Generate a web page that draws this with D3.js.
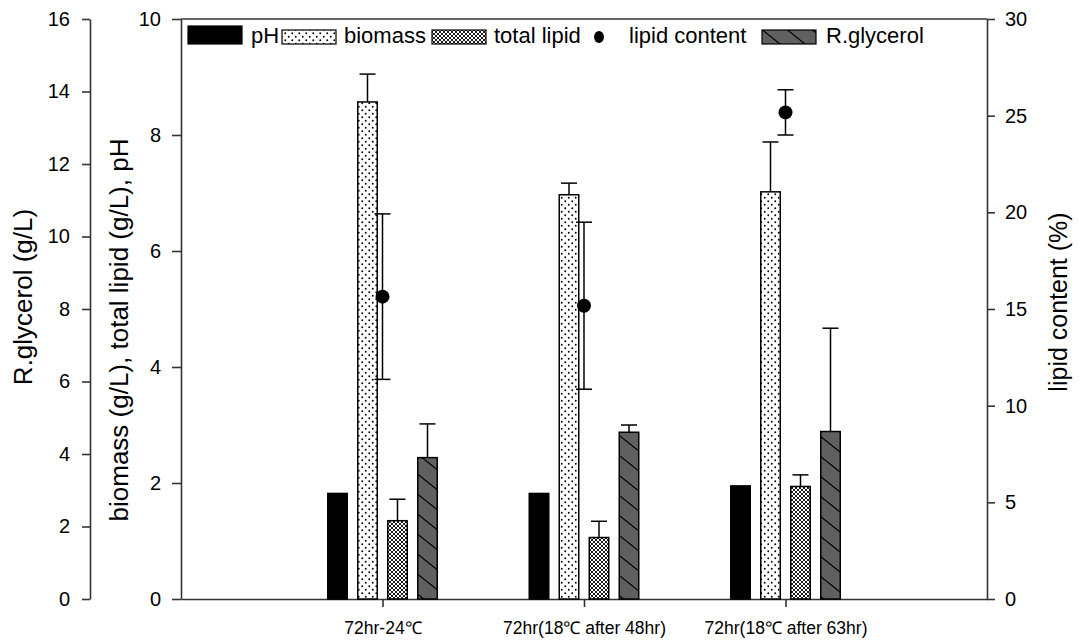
<!DOCTYPE html>
<html>
<head>
<meta charset="utf-8">
<script src="https://cdn.jsdelivr.net/npm/d3@7"></script>
<style>
  body { margin: 0; background: #fff; }
  svg text { font-family: Arial, "Liberation Sans", sans-serif; fill: #000; }
</style>
</head>
<body>
<svg id="chart" width="1085" height="641"></svg>
<script>
// ####################################################################################
// Data
var categories = ["72hr-24\u2103", "72hr(18\u2103 after 48hr)", "72hr(18\u2103 after 63hr)"];
var catPos = [1, 2, 3];

var pH = [1.82, 1.82, 1.95];
var biomass = [8.57, 6.97, 7.02];
var biomassErr = [0.48, 0.20, 0.86];
var totalLipid = [1.35, 1.06, 1.94];
var totalLipidErr = [0.37, 0.28, 0.20];
var lipidContent = [15.64, 15.17, 25.17];
var lipidContentErr = [4.28, 4.32, 1.17];
var rGlycerol = [3.90, 4.60, 4.62];
var rGlycerolErr = [0.93, 0.20, 2.85];

var barSeries = ["pH", "biomass", "total lipid", "R.glycerol"];
var glyTicks = [0, 2, 4, 6, 8, 10, 12, 14, 16];
var mainTicks = [0, 2, 4, 6, 8, 10];
var rightTicks = [0, 5, 10, 15, 20, 25, 30];

// ####################################################################################
// Layout
var chartDim = {left: 181, right: 987, top: 19, bottom: 599, outerAxis: 90};
var axisColor = "#333";
var fontFam = 'Arial, "Liberation Sans", sans-serif';

var svg = d3.select("#chart");

// patterns
var defs = svg.append("defs");

var pDots = defs.append("pattern").attr("id", "pat_biomass")
  .attr("patternUnits", "userSpaceOnUse").attr("width", 7).attr("height", 7);
pDots.append("rect").attr("width", 7).attr("height", 7).attr("fill", "#fff");
pDots.append("circle").attr("cx", 1.75).attr("cy", 1.75).attr("r", 0.95).attr("fill", "#000");
pDots.append("circle").attr("cx", 5.25).attr("cy", 5.25).attr("r", 0.95).attr("fill", "#000");

var pCross = defs.append("pattern").attr("id", "pat_lipid")
  .attr("patternUnits", "userSpaceOnUse").attr("width", 4).attr("height", 4);
pCross.append("rect").attr("width", 4).attr("height", 4).attr("fill", "#fff");
pCross.append("path").attr("d", "M0,0L4,4M4,0L0,4").attr("stroke", "#000").attr("stroke-width", 0.9);

var pHatch = defs.append("pattern").attr("id", "pat_gly")
  .attr("patternUnits", "userSpaceOnUse").attr("width", 25).attr("height", 20);
pHatch.append("rect").attr("width", 25).attr("height", 20).attr("fill", "#606060");
pHatch.append("path").attr("d", "M0,0L25,20M-5,16L5,24M20,-4L30,4").attr("stroke", "#000").attr("stroke-width", 1.2);

var fills = {"pH": "#000", "biomass": "url(#pat_biomass)", "total lipid": "url(#pat_lipid)", "R.glycerol": "url(#pat_gly)"};

// ####################################################################################
// Scales
var xScale = d3.scaleLinear().domain([0, 4]).range([chartDim.left, chartDim.right]);
var subScale = d3.scaleBand().domain(barSeries).range([-60, 60]).paddingInner(0.35).paddingOuter(0.175);
var yMain = d3.scaleLinear().domain([0, 10]).range([chartDim.bottom, chartDim.top]);
var yGly = d3.scaleLinear().domain([0, 16]).range([chartDim.bottom, chartDim.top]);
var yRight = d3.scaleLinear().domain([0, 30]).range([chartDim.bottom, chartDim.top]);

// bar table built from the arrays
var barData = [];
catPos.forEach(function(c, i) {
  barData.push({series: "pH", x: c, v: pH[i], err: 0, scale: yMain});
  barData.push({series: "biomass", x: c, v: biomass[i], err: biomassErr[i], scale: yMain});
  barData.push({series: "total lipid", x: c, v: totalLipid[i], err: totalLipidErr[i], scale: yMain});
  barData.push({series: "R.glycerol", x: c, v: rGlycerol[i], err: rGlycerolErr[i], scale: yGly});
});

// ####################################################################################
// Axes
function styleAxis(g, size) {
  g.attr("font-family", null).attr("font-size", null);
  g.selectAll("path.domain").attr("stroke", axisColor).attr("stroke-width", 1.6);
  g.selectAll(".tick line").attr("stroke", axisColor).attr("stroke-width", 1.6);
  g.selectAll(".tick text").style("font-size", size + "px").style("font-family", fontFam).attr("fill", "#000");
}

svg.append("g").attr("class", "y_axis_gly")
  .attr("transform", `translate(${chartDim.outerAxis},0)`)
  .call(d3.axisLeft(yGly).tickValues(glyTicks).tickSize(8).tickSizeOuter(0).tickPadding(12))
  .call(g => styleAxis(g, 20));

svg.append("g").attr("class", "y_axis")
  .attr("transform", `translate(${chartDim.left},0)`)
  .call(d3.axisLeft(yMain).tickValues(mainTicks).tickSize(9).tickSizeOuter(0).tickPadding(11))
  .call(g => styleAxis(g, 20));

svg.append("g").attr("class", "y_axis_right")
  .attr("transform", `translate(${chartDim.right},0)`)
  .call(d3.axisRight(yRight).tickValues(rightTicks).tickSize(8).tickSizeOuter(0).tickPadding(10))
  .call(g => styleAxis(g, 20));

svg.append("g").attr("class", "x_axis")
  .attr("transform", `translate(0,${chartDim.bottom})`)
  .call(d3.axisBottom(xScale).tickValues(catPos).tickFormat((d, i) => categories[i]).tickSize(8).tickSizeOuter(0).tickPadding(15))
  .call(g => styleAxis(g, 17.5));

// top frame line
svg.append("line")
  .attr("x1", chartDim.left).attr("x2", chartDim.right)
  .attr("y1", chartDim.top).attr("y2", chartDim.top)
  .attr("stroke", axisColor).attr("stroke-width", 1.6);

// axis names
svg.append("text").attr("class", "yAxis_name")
  .attr("transform", "translate(32,297) rotate(-90)")
  .attr("text-anchor", "middle").style("font-size", "26px")
  .text("R.glycerol (g/L)");

svg.append("text").attr("class", "yAxis_name")
  .attr("transform", "translate(128,330) rotate(-90)")
  .attr("text-anchor", "middle").style("font-size", "26px")
  .text("biomass (g/L), total lipid (g/L), pH");

svg.append("text").attr("class", "yAxis_name")
  .attr("transform", "translate(1067,302) rotate(-90)")
  .attr("text-anchor", "middle").style("font-size", "25px")
  .text("lipid content (%)");

// ####################################################################################
// Bars + error bars
var plot = svg.append("g").attr("class", "plot");

plot.selectAll("rect.bar")
  .data(barData)
  .join("rect")
    .attr("class", "bar")
    .attr("x", d => xScale(d.x) + subScale(d.series))
    .attr("width", subScale.bandwidth())
    .attr("y", d => d.scale(d.v))
    .attr("height", d => d.scale(0) - d.scale(d.v))
    .attr("fill", d => fills[d.series])
    .attr("stroke", "#000")
    .attr("stroke-width", 1.5);

var errData = barData.filter(d => d.err > 0);
var capW = 16;

plot.selectAll("line.errStem")
  .data(errData)
  .join("line")
    .attr("class", "errStem")
    .attr("x1", d => xScale(d.x) + subScale(d.series) + subScale.bandwidth() / 2)
    .attr("x2", d => xScale(d.x) + subScale(d.series) + subScale.bandwidth() / 2)
    .attr("y1", d => d.scale(d.v))
    .attr("y2", d => d.scale(d.v + d.err))
    .attr("stroke", "#000").attr("stroke-width", 1.5);

plot.selectAll("line.errCap")
  .data(errData)
  .join("line")
    .attr("class", "errCap")
    .attr("x1", d => xScale(d.x) + subScale(d.series) + subScale.bandwidth() / 2 - capW / 2)
    .attr("x2", d => xScale(d.x) + subScale(d.series) + subScale.bandwidth() / 2 + capW / 2)
    .attr("y1", d => d.scale(d.v + d.err))
    .attr("y2", d => d.scale(d.v + d.err))
    .attr("stroke", "#000").attr("stroke-width", 1.5);

// lipid content points on right axis
var lcData = catPos.map((c, i) => ({x: c, v: lipidContent[i], err: lipidContentErr[i]}));

plot.selectAll("line.lcStem")
  .data(lcData)
  .join("line")
    .attr("class", "lcStem")
    .attr("x1", d => xScale(d.x)).attr("x2", d => xScale(d.x))
    .attr("y1", d => yRight(d.v - d.err)).attr("y2", d => yRight(d.v + d.err))
    .attr("stroke", "#000").attr("stroke-width", 1.5);

[-1, 1].forEach(function(sgn) {
  plot.selectAll(`line.lcCap${sgn}`)
    .data(lcData)
    .join("line")
      .attr("class", `lcCap${sgn}`)
      .attr("x1", d => xScale(d.x) - capW / 2).attr("x2", d => xScale(d.x) + capW / 2)
      .attr("y1", d => yRight(d.v + sgn * d.err)).attr("y2", d => yRight(d.v + sgn * d.err))
      .attr("stroke", "#000").attr("stroke-width", 1.5);
});

plot.selectAll("circle.lc")
  .data(lcData)
  .join("circle")
    .attr("class", "lc")
    .attr("cx", d => xScale(d.x))
    .attr("cy", d => yRight(d.v))
    .attr("r", 7)
    .attr("fill", "#000");

// ####################################################################################
// Legend
var legend = svg.append("g").attr("class", "legend");
var legendItems = [
  {name: "pH", kind: "rect", sx: 188, tx: 251, h: 18},
  {name: "biomass", kind: "rect", sx: 282, tx: 344, h: 14},
  {name: "total lipid", kind: "rect", sx: 432, tx: 494, h: 14},
  {name: "lipid content", kind: "dot", sx: 599, tx: 629},
  {name: "R.glycerol", kind: "rect", sx: 762, tx: 826, h: 14}
];

legendItems.forEach(function(it) {
  if (it.kind === "rect") {
    legend.append("rect")
      .attr("x", it.sx).attr("y", 44 - it.h)
      .attr("width", 54).attr("height", it.h)
      .attr("fill", fills[it.name])
      .attr("stroke", "#000").attr("stroke-width", 1.2);
  } else {
    legend.append("ellipse").attr("cx", it.sx).attr("cy", 37).attr("rx", 5).attr("ry", 6).attr("fill", "#000");
  }
  legend.append("text")
    .attr("x", it.tx).attr("y", 43)
    .style("font-size", "22px")
    .text(it.name);
});
</script>
</body>
</html>
